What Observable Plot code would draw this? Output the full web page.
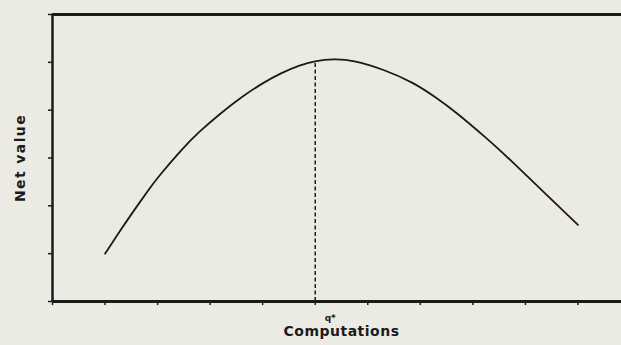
<!DOCTYPE html>
<html>
<head>
<meta charset="utf-8">
<script src="https://cdn.jsdelivr.net/npm/d3@7"></script>
<script src="https://cdn.jsdelivr.net/npm/@observablehq/plot@0.6"></script>
<style>
  html, body { margin: 0; padding: 0; background: #ecebe3; }
  #chart svg { display: block; background: #ecebe3; }
  .ylab text { letter-spacing: 1.4px; }
  .xlab text { letter-spacing: 0.5px; }
</style>
</head>
<body>
<div id="chart"></div>
<script>
// Net value as a function of the amount of computation
const computations = [1.0, 1.3, 1.55, 1.8, 2.05, 2.45, 2.8, 3.2, 3.6, 4.0, 4.35, 4.7, 5.0, 5.35, 5.75, 6.3, 6.85, 7.3, 7.7, 8.25, 8.75, 9.3, 10.0];
const netValue     = [1.0, 1.5, 1.9, 2.29, 2.65, 3.16, 3.55, 3.93, 4.27, 4.56, 4.77, 4.93, 5.02, 5.06, 5.02, 4.84, 4.57, 4.26, 3.93, 3.42, 2.92, 2.34, 1.6];

// Optimal amount of computation q*
const qStar = 5.0;
const qStarValue = 5.02;

const xTicks = [0, 1, 2, 3, 4, 5, 6, 7, 8, 9, 10, 11];
const yTicks = [0, 1, 2, 3, 4, 5, 6];

const xLabel = "Computations";
const yLabel = "Net value";
const qLabel = "q*";

const curve = computations.map((c, i) => ({c, v: netValue[i]}));
const ink = "#1d1a1a";
const font = "'DejaVu Sans', sans-serif";

const chart = Plot.plot({
  width: 621,
  height: 345,
  marginLeft: 52,
  marginRight: -9,
  marginTop: 14,
  marginBottom: 44,
  style: {background: "#ecebe3", color: ink, fontFamily: font},
  x: {domain: [0, 11]},
  y: {domain: [0, 6]},
  marks: [
    Plot.axisX({ticks: xTicks, tickSize: 4, tickFormat: () => "", stroke: ink, strokeWidth: 1.5, label: null}),
    Plot.axisY({ticks: yTicks, tickSize: 4, tickFormat: () => "", stroke: ink, strokeWidth: 1.5, label: null}),
    Plot.ruleX([qStar], {y1: 0, y2: qStarValue, stroke: ink, strokeWidth: 1.5, strokeDasharray: "4,2.5"}),
    Plot.line(curve, {x: "c", y: "v", curve: "natural", stroke: ink, strokeWidth: 1.8}),
    Plot.ruleY([0, 6], {stroke: ink, strokeWidth: 3}),
    Plot.ruleX([0], {stroke: ink, strokeWidth: 2.5}),
    Plot.text([qLabel], {x: qStar, y: 0, dx: 15, dy: 17, text: d => d, fontSize: 9, fontWeight: "bold", fill: ink, fontFamily: font}),
    Plot.text([xLabel], {frameAnchor: "bottom", dy: 34, text: d => d, fontSize: 14, fontWeight: "bold", fill: ink, fontFamily: font, className: "xlab"}),
    Plot.text([yLabel], {frameAnchor: "left", textAnchor: "middle", dx: -32, rotate: -90, text: d => d, fontSize: 14, fontWeight: "bold", fill: ink, fontFamily: font, className: "ylab"})
  ]
});

document.getElementById("chart").append(chart);
</script>
</body>
</html>
